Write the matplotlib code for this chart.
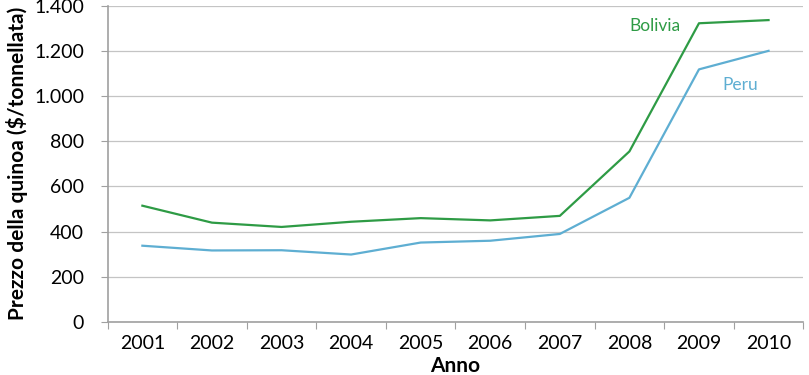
import numpy as np
import matplotlib
matplotlib.use("Agg")
import matplotlib.pyplot as plt
from matplotlib.ticker import FuncFormatter, FixedLocator

anni = ['2001', '2002', '2003', '2004', '2005', '2006', '2007', '2008', '2009', '2010']
bolivia = [515, 440, 421, 444, 460, 450, 470, 755, 1322, 1336]
peru = [338, 317, 318, 299, 352, 360, 390, 550, 1118, 1200]

verde = '#2e9b45'
blu = '#5eaed2'
grigio = '#a0a0a0'

plt.rcParams['font.family'] = ['Lato', 'DejaVu Sans']

fig = plt.figure(figsize=(8.09, 3.75), dpi=100)
ax = fig.add_axes([0.133, 0.141, 0.860, 0.844])

x = np.arange(len(anni))
ax.plot(x, bolivia, color=verde, lw=1.6)
ax.plot(x, peru, color=blu, lw=1.6)

ax.text(7.37, 1308, 'Bolivia', color=verde, fontsize=12.5, ha='center', va='center')
ax.text(8.59, 1047, 'Peru', color=blu, fontsize=12.5, ha='center', va='center')

ax.set_xlim(-0.5, len(anni) - 0.5)
ax.set_ylim(0, 1400)
ax.set_yticks(range(0, 1401, 200))
ax.yaxis.set_major_formatter(FuncFormatter(lambda v, p: f'{int(v):,}'.replace(',', '.')))
ax.grid(axis='y', color='#c4c4c4', lw=0.9)
ax.set_axisbelow(True)

ax.xaxis.set_major_locator(FixedLocator(np.arange(-0.5, len(anni), 1.0)))
ax.xaxis.set_major_formatter(FuncFormatter(lambda v, p: ''))
ax.set_xticks(x, minor=True)
ax.set_xticklabels(anni, minor=True)
ax.tick_params(axis='x', which='minor', length=0, labelsize=14, pad=9)
ax.tick_params(axis='x', which='major', length=5, color=grigio, direction='out')
ax.tick_params(axis='y', length=5, color=grigio, labelsize=14, pad=12)

for s in ['top', 'right']:
    ax.spines[s].set_visible(False)
for s in ['left', 'bottom']:
    ax.spines[s].set_color(grigio)
    ax.spines[s].set_linewidth(1.2)

ax.set_xlabel('Anno', fontsize=15, fontweight='bold', labelpad=3)
ax.set_ylabel('Prezzo della quinoa ($/tonnellata)', fontsize=15, fontweight='bold', labelpad=4)

fig.savefig('out.png', dpi=100)
